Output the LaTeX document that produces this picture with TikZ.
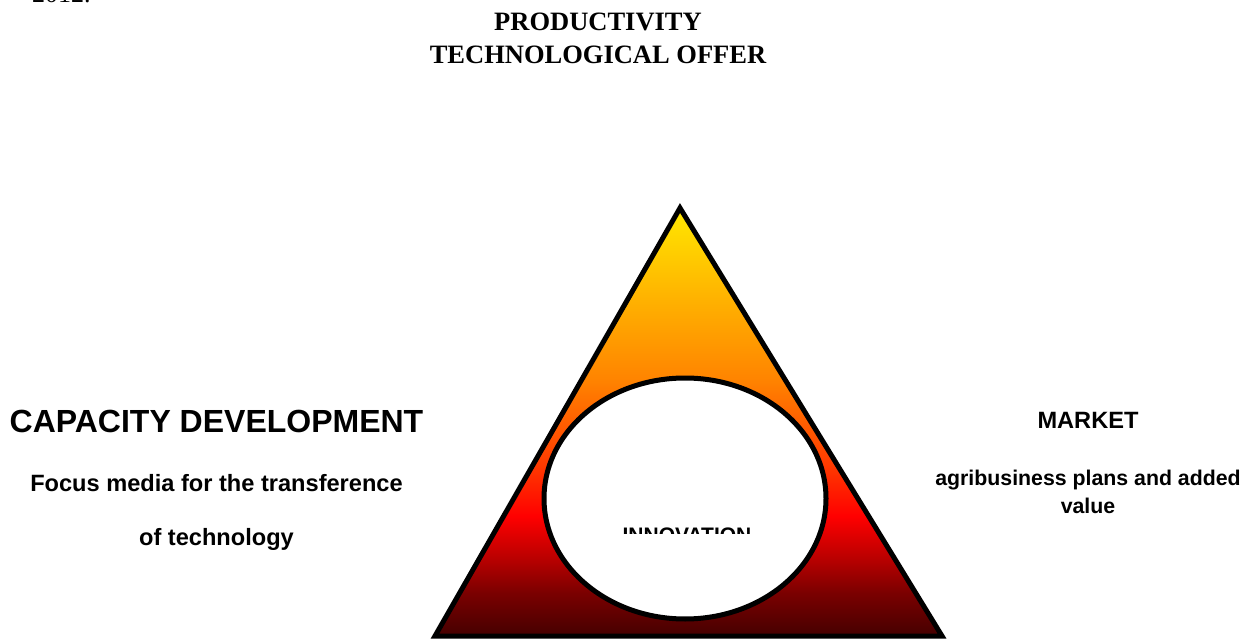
\documentclass[tikz,border=0pt]{standalone}
\usepackage{fontspec}
\setmainfont{Liberation Serif}
\setsansfont{Liberation Sans}
\definecolor{tribottom}{HTML}{450000}
\definecolor{trideep}{HTML}{7A0000}
\definecolor{trired1}{HTML}{B80000}
\definecolor{trired2}{HTML}{FF0000}
\definecolor{triorred}{HTML}{FF3A00}
\definecolor{triorange}{HTML}{FF8400}
\definecolor{triamber}{HTML}{FFB000}
\definecolor{triyellow}{HTML}{FFE800}
\pgfdeclareverticalshading{pyramidfill}{100bp}{%
  color(0bp)=(tribottom);
  color(25bp)=(tribottom);
  color(30bp)=(trideep);
  color(34bp)=(trired1);
  color(39bp)=(trired2);
  color(45bp)=(triorred);
  color(55bp)=(triorange);
  color(64bp)=(triamber);
  color(75bp)=(triyellow);
  color(100bp)=(triyellow)}
\tikzset{
  title/.style={font=\rmfamily\bfseries\fontsize{26.5}{30}\selectfont, anchor=base, inner sep=0pt},
  heading/.style={font=\sffamily\bfseries\fontsize{32}{36}\selectfont, anchor=base, inner sep=0pt},
  label/.style={font=\sffamily\bfseries\fontsize{23.6}{27}\selectfont, anchor=base, inner sep=0pt},
  smalllabel/.style={font=\sffamily\bfseries\fontsize{21.3}{25}\selectfont, anchor=base, inner sep=0pt},
  outline/.style={line width=5pt, draw=black}
}
\begin{document}
\begin{tikzpicture}[x=1pt,y=-1pt]
  \useasboundingbox (0,0) rectangle (1254,639);
  \clip (0,0) rectangle (1254,639);
  \fill[white] (0,0) rectangle (1254,639);

  % year line, cut by the top edge
  \node[font=\rmfamily\fontsize{26}{30}\selectfont, anchor=base west, inner sep=0pt] (year) at (32,3) {2012.};

  % titles
  \node[title] (prod) at (598,31) {PRODUCTIVITY};
  \node[title] (offer) at (598,64) {TECHNOLOGICAL OFFER};

  % triangle
  \coordinate (apex) at (680,208);
  \coordinate (bl) at (435,636);
  \coordinate (br) at (942,636);
  \shade[shading=pyramidfill] (apex) -- (br) -- (bl) -- cycle;
  \draw[outline] (apex) -- (br) -- (bl) -- cycle;

  % innovation ellipse
  \coordinate (core) at (685,498.5);
  \draw[outline, fill=white] (core) ellipse [x radius=141, y radius=120.5];
  \begin{scope}
    \clip (500,400) rectangle (870,533);
    \node[smalllabel, font=\sffamily\bfseries\fontsize{21}{24}\selectfont] (innov) at (687,542) {INNOVATION};
  \end{scope}

  % left block
  \node[heading] (cap) at (216.5,432) {CAPACITY DEVELOPMENT};
  \node[label] (focus) at (216.5,491) {Focus media for the transference};
  \node[label] (tech) at (216.5,545) {of technology};

  % right block
  \node[label] (market) at (1088,428) {MARKET};
  \node[smalllabel] (agri) at (1088,485) {agribusiness plans and added};
  \node[smalllabel] (value) at (1088,513) {value};
\end{tikzpicture}
\end{document}
